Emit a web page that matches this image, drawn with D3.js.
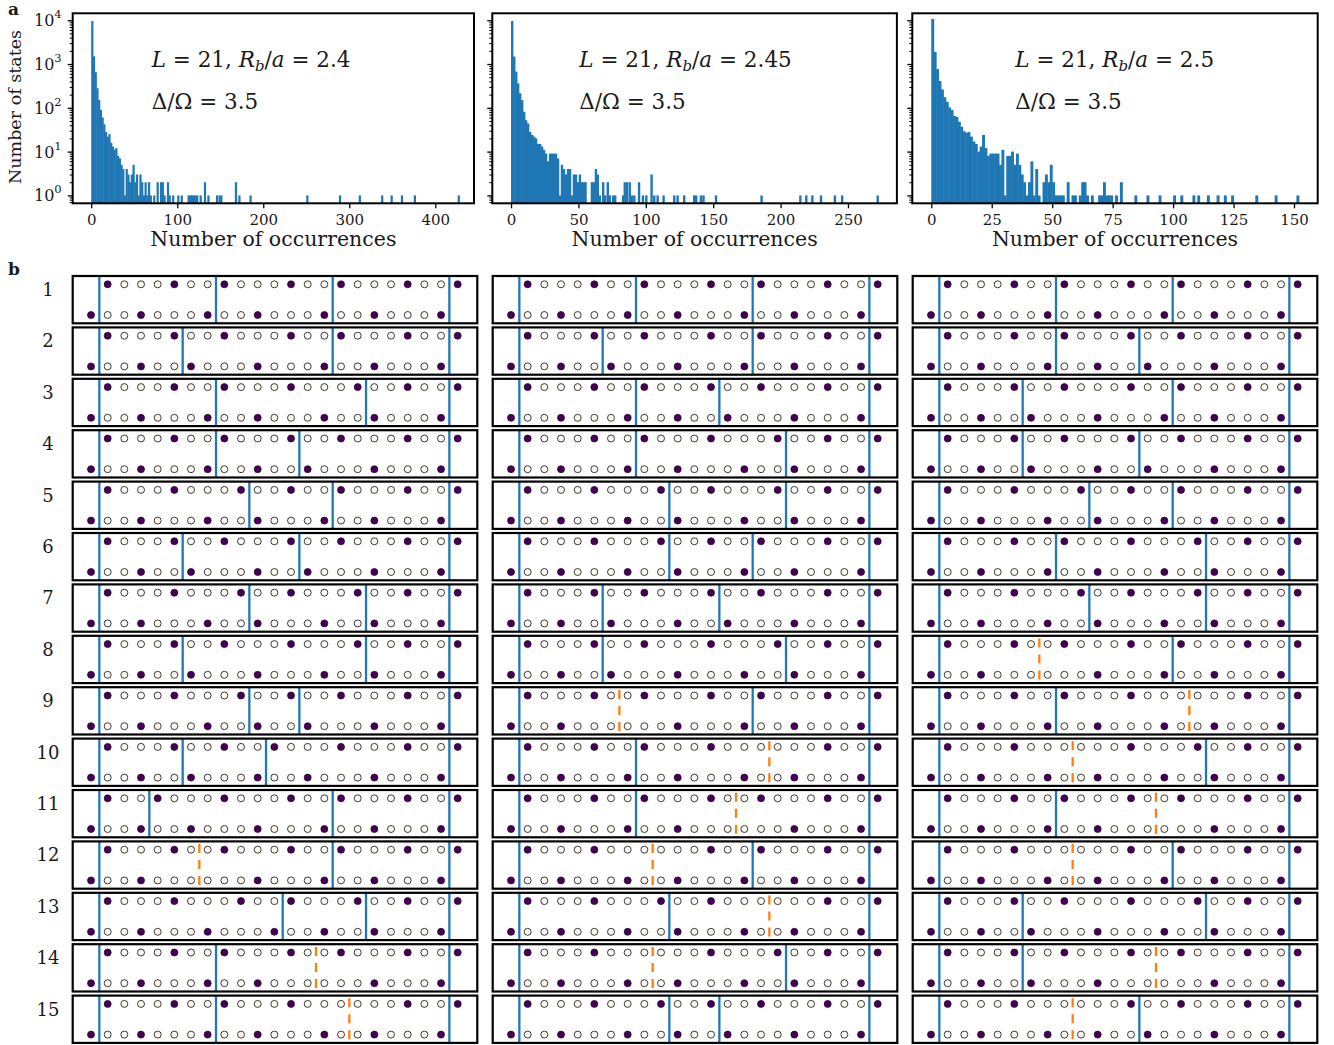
<!DOCTYPE html>
<html>
<head>
<meta charset="utf-8">
<script src="https://cdn.jsdelivr.net/npm/d3@7"></script>
<style>
body { margin: 0; background: #fff; }
text { font-family: "DejaVu Serif", serif; fill: #1a1a1a; }
</style>
</head>
<body>
<div id="chart"></div>
<script>
// ---------- panel a: how often each state was seen ----------
const chainL = "21";
const rbValues = ["2.4", "2.45", "2.5"];
const deltaOmega = "3.5";

const hist1Occ = [0,2,4,6,8,10,12,14,16,18,20,22,24,26,28,30,32,34,36,38,40,42,44,46,48,50,52,54,56,58,60,62,64,66,68,
    72,76,80,82,84,88,90,94,100,104,112,114,116,118,120,122,126,131,135,145,148,150,167,171,184,
    250,288,311,337,348,360,375,426];
const hist1Count = [9600,1500,650,280,150,90,60,42,28,22,25,16,13,11,12,8,7,5,4,1,4,3,2,3,5,2,3,1,3,2,1,2,1,2,1,
    1,2,2,2,1,2,1,1,1,1,1,1,1,1,1,1,1,2,1,1,1,1,2,1,1,
    1,1,1,1,1,1,1,1];

const hist2Occ = [0,1.5,3.0,4.4,5.9,7.4,8.9,10.3,11.8,13.3,14.8,16.3,17.7,19.2,20.7,22.2,23.6,25.1,26.6,28.1,
    29.6,31.0,32.5,34.0,35.5,36.9,38.4,39.9,41.4,42.9,44.3,45.8,47.3,48.8,50.2,51.7,53.2,54.4,
    59.1,60.6,62.1,63.5,65.0,67.5,69.0,70.9,72.4,74.9,76.4,82.3,83.5,85.2,87.2,88.7,90.6,94.1,97.0,99.5,
    103.4,105.4,107.9,112.3,120.2,122.7,127.6,135.0,136.5,140.0,141.9,151.2,185.0,213.8,218.2,222.7,229.1,239.4,244.8,271.2];
const hist2Count = [9600,1480,670,360,215,150,81,52,44,28,24,22,20,15,15,13,11,9,6,9,
    9,9,9,7,1,5,4,3,4,4,1,3,3,2,3,2,2,2,
    2,2,4,3,1,2,1,2,1,1,1,1,2,2,2,1,1,2,1,1,
    3,1,1,1,1,1,1,1,1,1,1,1,1,1,1,1,1,1,1,1];

const hist3Occ = [0,1,2,3,4,5,6,7,8,9,10,11,12,13,14,15,16,17,18,19,20,21,22,23,24,25,26,27,28,29,
    30,31,32,33,34,35,36,37,38,39,40,41,42,43,44,46,47,48,49,50,51,52,53,54,56,58,59,61,62,63,64,66,
    69,70,71,72,73,74,76,78,84,89,94,100,103,108,110,114,118,121,124,134,142,151];
const hist3Count = [10700,1900,770,410,262,175,137,102,89,65,62,48,37,29,27,28,22,17,15,10,13,24,12,8,9,9,9,9,5,11,
    1,8,8,10,5,9,5,3,2,1,2,6,1,4,1,2,3,2,5,2,1,1,1,1,2,1,1,1,2,2,1,1,
    1,1,2,1,1,1,1,2,1,1,1,1,1,1,1,1,1,1,1,1,1,1];

const histBinWidth = [2, 1.4, 1];
const histXTicks = [[0,100,200,300,400], [0,50,100,150,200,250], [0,25,50,75,100,125,150]];
const histXDomain = [[-21.5, 445], [-13.9, 286.3], [-7.85, 159.8]];
const yTickPowers = [0, 1, 2, 3, 4];

// ---------- panel b: sampled configurations ----------
// top row holds sites 1..22, bottom row sites 0..21 (site j of top sits above j of bottom)
// walls sit between site w and w+1
const stateTop = [
    [1,5,8,12,15,19,22], [1,5,8,12,15,19,22], [1,5,8,12,16,19,22], [1,5,8,12,15,19,22],
    [1,5,9,12,15,19,22], [1,5,8,12,15,19,22], [1,5,9,12,16,19,22], [1,5,8,12,16,19,22],
    [1,5,9,12,15,19,22], [1,5,8,11,15,19,22], [1,4,8,12,15,19,22], [1,5,8,12,15,19,22],
    [1,5,9,12,16,19,22], [1,5,8,12,15,19,22], [1,5,8,12,19,22], [1,5,12,15,19,22],
    [1,5,9,12,19,22], [1,5,12,16,19,22], [1,5,8,12,15,19,22], [1,5,12,15,19,22]
];
const stateBottom = [
    [0,3,7,10,14,17,21], [0,3,6,10,14,17,21], [0,3,7,10,14,17,21], [0,3,7,10,13,17,21],
    [0,3,7,10,14,17,21], [0,3,6,10,13,17,21], [0,3,7,10,14,17,21], [0,3,6,10,14,17,21],
    [0,3,7,10,13,17,21], [0,3,6,10,13,17,21], [0,3,6,10,14,17,21], [0,3,10,14,17,21],
    [0,3,7,11,14,17,21], [0,3,7,10,17,21], [0,3,7,10,14,17,21], [0,3,7,10,14,17,21],
    [0,3,7,10,14,17,21], [0,3,7,10,14,17,21], [0,3,6,10,17,21], [0,3,7,10,13,17,21]
];
const stateBlueWalls = [
    [0,7,14,21], [0,5,14,21], [0,7,16,21], [0,7,12,21], [0,9,14,21], [0,5,12,21], [0,9,16,21],
    [0,5,16,21], [0,9,12,21], [0,5,10,21], [0,3,14,21], [0,14,21], [0,11,16,21], [0,7,21],
    [0,7,21], [0,14,21], [0,9,21], [0,16,21], [0,5,21], [0,12,21]
];
const stateOrangeWalls = [
    [], [], [], [], [], [], [], [], [], [], [], [6], [], [13], [15], [8], [15], [8], [13], [8]
];
// which state is shown in each row, one list per column
const panelState = [
    [0,1,2,3,4,5,6,7,8,9,10,11,12,13,14],
    [0,1,3,2,6,4,5,7,11,14,13,15,16,17,8],
    [0,3,1,5,4,2,6,11,14,17,13,15,7,18,19]
];

const svg = d3.select("#chart")
    .append("svg")
    .attr("width", 1334)
    .attr("height", 1045);

// ---------- histograms ----------
const histLeft = [72.7, 492.3, 912.3];
const histWidth = [401.3, 404.6, 405.4];
const histTop = 13.3;
const histHeight = 190;
const annX = [79, 87, 103];
const hists = [[hist1Occ, hist1Count], [hist2Occ, hist2Count], [hist3Occ, hist3Count]];

const yScale = d3.scaleLog().domain([0.66, 14400]).range([histHeight, 0]);
const majorTicks = yTickPowers.map(p => Math.pow(10, p));
let minorTicks = [0.7, 0.8, 0.9];
for (let p = 0; p < 4; p++) {
    for (let m = 2; m < 10; m++) {
        minorTicks.push(m * Math.pow(10, p));
    }
}

for (let i = 0; i < 3; i++) {
    const g = svg.append("g").attr("transform", `translate(${histLeft[i]},${histTop})`);
    const x = d3.scaleLinear().domain(histXDomain[i]).range([0, histWidth[i]]);
    const bars = hists[i][0].map((o, k) => ({occ: o, count: hists[i][1][k]}));

    // a little extra width so neighbouring bins touch like in the original
    g.selectAll(".bar")
        .data(bars)
        .join("rect")
        .attr("class", "bar")
        .attr("x", d => x(d.occ))
        .attr("width", d => x(d.occ + histBinWidth[i]) - x(d.occ) + 0.5)
        .attr("y", d => yScale(d.count))
        .attr("height", d => histHeight - yScale(d.count))
        .attr("fill", "#1f77b4");

    const xAxis = g.append("g")
        .attr("transform", `translate(0,${histHeight})`)
        .call(d3.axisBottom(x).tickValues(histXTicks[i]).tickSize(5).tickPadding(6).tickFormat(d3.format("d")));
    xAxis.select(".domain").remove();
    xAxis.selectAll("line").attr("stroke", "#000").attr("stroke-width", 1.3);
    xAxis.selectAll("text").attr("font-size", 15).attr("font-family", "DejaVu Serif").attr("fill", "#1a1a1a");

    const yMajor = g.append("g").call(d3.axisLeft(yScale).tickValues(majorTicks).tickSize(5).tickFormat(""));
    yMajor.select(".domain").remove();
    yMajor.selectAll("line").attr("stroke", "#000").attr("stroke-width", 1.3);
    const yMinor = g.append("g").call(d3.axisLeft(yScale).tickValues(minorTicks).tickSize(3).tickFormat(""));
    yMinor.select(".domain").remove();
    yMinor.selectAll("line").attr("stroke", "#000").attr("stroke-width", 1);

    if (i === 0) {
        majorTicks.forEach((t, k) => {
            const lab = g.append("text")
                .attr("x", -11)
                .attr("y", yScale(t) + 6)
                .attr("text-anchor", "end")
                .attr("font-size", 16);
            lab.append("tspan").text("10");
            lab.append("tspan").attr("font-size", 11.5).attr("dy", -8).text(yTickPowers[k]);
        });
    }

    g.append("rect")
        .attr("width", histWidth[i])
        .attr("height", histHeight)
        .attr("fill", "none")
        .attr("stroke", "#000")
        .attr("stroke-width", 2);

    g.append("text")
        .attr("x", histWidth[i] / 2)
        .attr("y", 233)
        .attr("text-anchor", "middle")
        .attr("font-size", 20.5)
        .text("Number of occurrences");

    // annotation, written like the LaTeX math in the original
    const ann = g.append("text").attr("x", annX[i]).attr("y", 54).attr("font-size", 21.5);
    ann.append("tspan").attr("font-style", "italic").text("L");
    ann.append("tspan").text(" = " + chainL + ", ");
    ann.append("tspan").attr("font-style", "italic").text("R");
    ann.append("tspan").attr("font-style", "italic").attr("font-size", 15).attr("dy", 4).text("b");
    ann.append("tspan").attr("dy", -4).text("/");
    ann.append("tspan").attr("font-style", "italic").text("a");
    ann.append("tspan").text(" = " + rbValues[i]);

    g.append("text")
        .attr("x", annX[i])
        .attr("y", 96)
        .attr("font-size", 21.5)
        .text("Δ/Ω = " + deltaOmega);
}

svg.append("text")
    .attr("transform", "translate(21,107) rotate(-90)")
    .attr("text-anchor", "middle")
    .attr("font-size", 17.5)
    .text("Number of states");

svg.append("text").attr("x", 8).attr("y", 15).attr("font-size", 17).attr("font-weight", "bold").text("a");
svg.append("text").attr("x", 8).attr("y", 275).attr("font-size", 17).attr("font-weight", "bold").text("b");

// ---------- configuration panels ----------
const colLeft = [72.7, 492.7, 912.7];
const rowTop0 = 276;
const rowPitch = 51.4;
const boxW = 404.6;
const boxH = 47.3;

const siteX = d3.scaleLinear().domain([0, 22]).range([18.3, 385]);
const rowY = d3.scalePoint().domain(["top", "bottom"]).range([8.3, 39]);
const topSites = d3.range(1, 23);
const bottomSites = d3.range(0, 22);

for (let c = 0; c < 3; c++) {
    for (let r = 0; r < 15; r++) {
        const s = panelState[c][r];
        const g = svg.append("g").attr("transform", `translate(${colLeft[c]},${rowTop0 + r * rowPitch})`);

        g.selectAll(".wall")
            .data(stateBlueWalls[s])
            .join("line")
            .attr("class", "wall")
            .attr("x1", d => siteX(d + 0.5))
            .attr("x2", d => siteX(d + 0.5))
            .attr("y1", 0)
            .attr("y2", boxH)
            .attr("stroke", "#1f77b4")
            .attr("stroke-width", 2.3);

        g.selectAll(".defect")
            .data(stateOrangeWalls[s])
            .join("line")
            .attr("class", "defect")
            .attr("x1", d => siteX(d + 0.5))
            .attr("x2", d => siteX(d + 0.5))
            .attr("y1", 2.7)
            .attr("y2", boxH - 2)
            .attr("stroke", "#ff7f0e")
            .attr("stroke-width", 2.3)
            .attr("stroke-dasharray", "9,7");

        g.selectAll(".top-site")
            .data(topSites)
            .join("circle")
            .attr("class", "top-site")
            .attr("cx", d => siteX(d))
            .attr("cy", rowY("top"))
            .attr("r", 3.5)
            .attr("fill", d => stateTop[s].includes(d) ? "#440154" : "#fcf6f0")
            .attr("stroke", d => stateTop[s].includes(d) ? "#2a0033" : "#000")
            .attr("stroke-width", 0.75);

        g.selectAll(".bottom-site")
            .data(bottomSites)
            .join("circle")
            .attr("class", "bottom-site")
            .attr("cx", d => siteX(d))
            .attr("cy", rowY("bottom"))
            .attr("r", 3.5)
            .attr("fill", d => stateBottom[s].includes(d) ? "#440154" : "#fcf6f0")
            .attr("stroke", d => stateBottom[s].includes(d) ? "#2a0033" : "#000")
            .attr("stroke-width", 0.75);

        g.append("rect")
            .attr("width", boxW)
            .attr("height", boxH)
            .attr("fill", "none")
            .attr("stroke", "#000")
            .attr("stroke-width", 2.2);

        if (c === 0) {
            svg.append("text")
                .attr("x", 48)
                .attr("y", rowTop0 + r * rowPitch + 20)
                .attr("text-anchor", "middle")
                .attr("font-size", 18)
                .text(r + 1);
        }
    }
}
</script>
</body>
</html>
